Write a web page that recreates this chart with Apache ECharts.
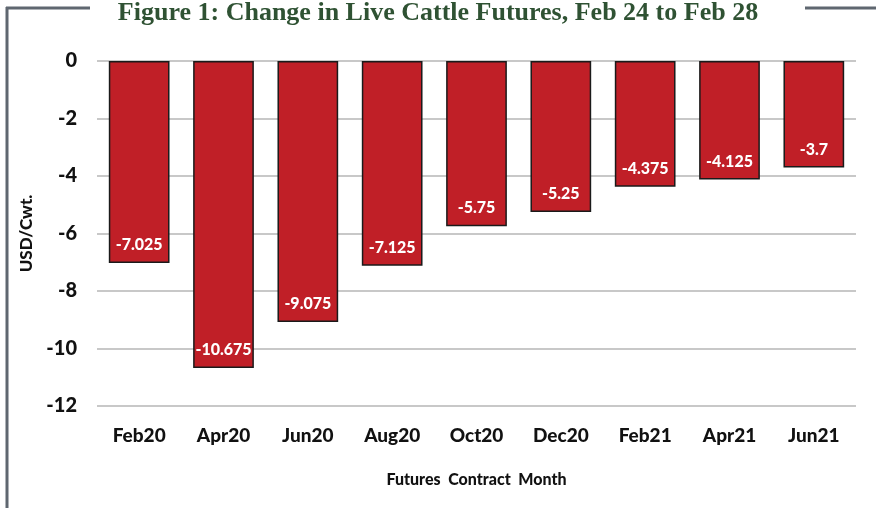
<!DOCTYPE html>
<html>
<head>
<meta charset="utf-8">
<script src="https://cdn.jsdelivr.net/npm/echarts@6/dist/echarts.min.js"></script>
<style>
  html, body { margin: 0; padding: 0; background: #ffffff; }
  #main { width: 876px; height: 508px; }
</style>
</head>
<body>
<div id="main"></div>
<script>
// 合约月份
var months = ['Feb20', 'Apr20', 'Jun20', 'Aug20', 'Oct20', 'Dec20', 'Feb21', 'Apr21', 'Jun21'];
// 价格变化 (USD/Cwt.)
var changes = [-7.025, -10.675, -9.075, -7.125, -5.75, -5.25, -4.375, -4.125, -3.7];

var myChart = echarts.init(document.getElementById('main'));
var option = {
    animation: false,
    backgroundColor: '#ffffff',
    title: {
        text: 'Figure 1: Change in Live Cattle Futures, Feb 24 to Feb 28',
        left: 'center',
        top: -5,
        textStyle: {
            fontFamily: 'Liberation Serif',
            fontWeight: 'bold',
            fontSize: 26,
            color: '#2f5233'
        }
    },
    graphic: [
        { type: 'line', shape: { x1: 6, y1: 8, x2: 90, y2: 8 }, style: { stroke: '#5f6770', lineWidth: 3 } },
        { type: 'line', shape: { x1: 805, y1: 8, x2: 876, y2: 8 }, style: { stroke: '#5f6770', lineWidth: 3 } },
        { type: 'line', shape: { x1: 7, y1: 7, x2: 7, y2: 508 }, style: { stroke: '#5f6770', lineWidth: 3 } }
    ],
    grid: {
        left: 97,
        right: 20,
        top: 61,
        bottom: 102
    },
    xAxis: {
        type: 'category',
        data: months,
        axisLine: { show: false },
        axisTick: { show: false },
        axisLabel: {
            margin: 20,
            fontFamily: 'Lato',
            fontWeight: 900,
            fontSize: 19,
            color: '#111111'
        },
        name: 'Futures  Contract  Month',
        nameLocation: 'middle',
        nameGap: 66,
        nameTextStyle: {
            fontFamily: 'Lato',
            fontWeight: 900,
            fontSize: 16,
            color: '#111111'
        }
    },
    yAxis: {
        type: 'value',
        min: -12,
        max: 0,
        interval: 2,
        axisLine: { show: false },
        axisTick: { show: false },
        splitLine: { lineStyle: { color: '#c8c8c8', width: 2 } },
        axisLabel: {
            margin: 20,
            fontFamily: 'Lato',
            fontWeight: 900,
            fontSize: 20,
            color: '#111111'
        },
        name: 'USD/Cwt.',
        nameLocation: 'middle',
        nameGap: 48,
        nameTextStyle: {
            fontFamily: 'Lato',
            fontWeight: 900,
            fontSize: 17,
            color: '#111111'
        }
    },
    series: [
        {
            type: 'bar',
            data: changes,
            barWidth: '72%',
            itemStyle: {
                color: '#c01f27',
                borderColor: '#1a1a1a',
                borderWidth: 1.5
            },
            label: {
                show: true,
                position: 'insideBottom',
                distance: 10,
                fontFamily: 'Lato',
                fontWeight: 900,
                fontSize: 16,
                color: '#ffffff'
            }
        }
    ]
};
myChart.setOption(option);
</script>
</body>
</html>
